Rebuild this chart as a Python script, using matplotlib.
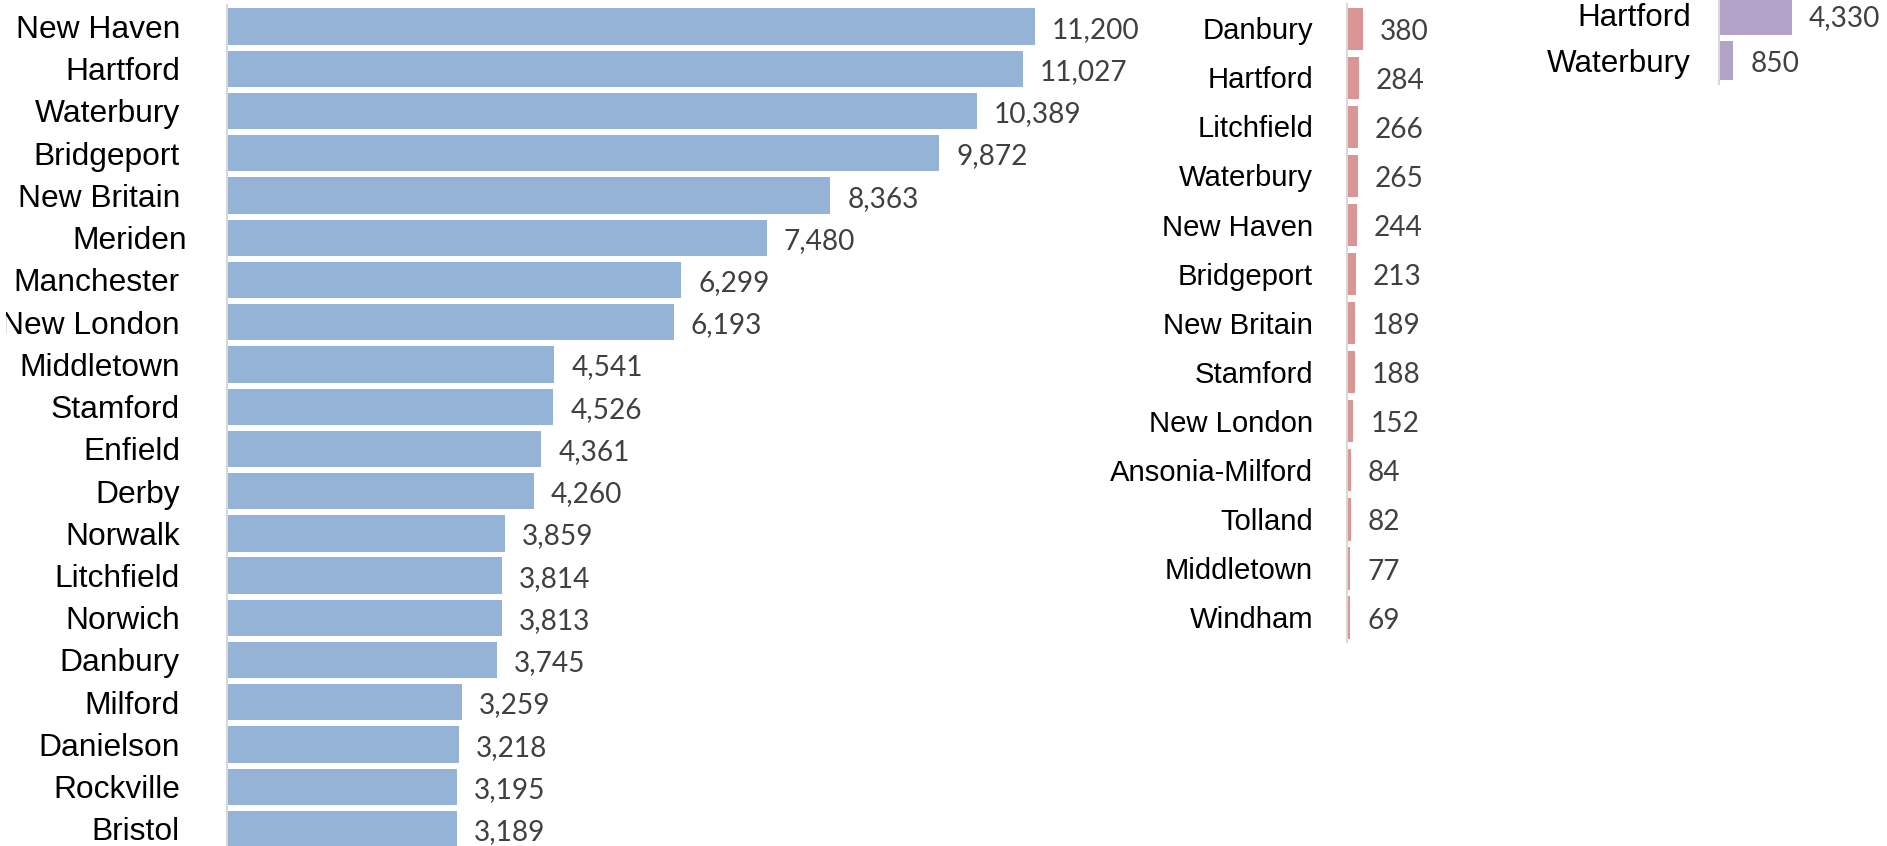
import matplotlib
matplotlib.use("Agg")
import matplotlib.pyplot as plt
from matplotlib.transforms import offset_copy, blended_transform_factory, Bbox, TransformedBbox

# ---------------- data ----------------
cities_all = ["New Haven", "Hartford", "Waterbury", "Bridgeport", "New Britain",
              "Meriden", "Manchester", "New London", "Middletown", "Stamford",
              "Enfield", "Derby", "Norwalk", "Litchfield", "Norwich", "Danbury",
              "Milford", "Danielson", "Rockville", "Bristol"]
values_all = [11200, 11027, 10389, 9872, 8363, 7480, 6299, 6193, 4541, 4526,
              4361, 4260, 3859, 3814, 3813, 3745, 3259, 3218, 3195, 3189]

cities_mid = ["Danbury", "Hartford", "Litchfield", "Waterbury", "New Haven",
              "Bridgeport", "New Britain", "Stamford", "New London",
              "Ansonia-Milford", "Tolland", "Middletown", "Windham"]
values_mid = [380, 284, 266, 265, 244, 213, 189, 188, 152, 84, 82, 77, 69]

cities_right = ["Hartford", "Waterbury"]
values_right = [4330, 850]

# ---------------- layout ----------------
W, H, DPI = 1887, 846, 100
fig = plt.figure(figsize=(W / DPI, H / DPI), dpi=DPI)
fig.patch.set_facecolor("white")

LABEL_FONT = "Liberation Sans"
VALUE_FONT = "Lato"
VALUE_PT = 20.2
VALUE_COLOR = "#404040"
AXIS_COLOR = "#D9D9D9"

# labels of the first panel are cut a few pixels inside the left edge
label_clip = TransformedBbox(Bbox([[6 / W, 0], [1, 1]]), fig.transFigure)


def px_axes(left, top, width, height):
    return fig.add_axes([left / W, 1 - (top + height) / H, width / W, height / H])


def panel(names, values, color, axis_x, top, pitch, scale, label_pt, label_gap,
          bar_frac=0.86, ax_width=400, nudges=None, clip=None):
    nudges = nudges or {}
    n = len(names)
    ax = px_axes(axis_x, top, ax_width, pitch * n)
    ax.set_facecolor("none")
    pos = list(range(n))
    ax.barh(pos, values, height=bar_frac, color=color, zorder=1)
    ax.set_xlim(0, ax_width / scale)
    ax.set_ylim(n - 0.5, -0.5)
    ax.set_xticks([])
    ax.set_yticks([])
    for s in ("top", "right", "bottom"):
        ax.spines[s].set_visible(False)
    ax.spines["left"].set_color(AXIS_COLOR)
    ax.spines["left"].set_linewidth(1.5)
    ax.spines["left"].set_zorder(3)

    em_label = label_pt * DPI / 72
    cap = 0.716 * em_label
    bt = blended_transform_factory(ax.transAxes, ax.transData)
    for i, name in enumerate(names):
        tr = offset_copy(bt, fig=fig, x=-label_gap + nudges.get(name, 0),
                         y=-cap / 2, units="dots")
        t = ax.text(0, i, name, transform=tr, ha="right", va="baseline",
                    fontsize=label_pt, family=LABEL_FONT, color="black",
                    clip_on=clip is not None)
        if clip is not None:
            t.set_clip_box(clip)

    em_val = VALUE_PT * DPI / 72
    dig = 0.7165 * em_val
    for i, v in enumerate(values):
        tr = offset_copy(ax.transData, fig=fig, x=17, y=-(dig / 2 + 1), units="dots")
        ax.text(v, i, f"{v:,}", transform=tr, ha="left", va="baseline",
                fontsize=VALUE_PT, family=VALUE_FONT, color=VALUE_COLOR,
                clip_on=False)
    return ax


panel(cities_all, values_all, "#95B3D7", axis_x=226.5, top=5.5, pitch=42.23,
      scale=0.0722, label_pt=22.9, label_gap=46.5, ax_width=900,
      nudges={"Meriden": 7}, clip=label_clip)
panel(cities_mid, values_mid, "#D99694", axis_x=1347.3, top=4.2, pitch=49.07,
      scale=0.0400, label_pt=21.1, label_gap=34.3, ax_width=200)
panel(cities_right, values_right, "#B3A2C7", axis_x=1719, top=-7.6, pitch=45.6,
      scale=0.0168, label_pt=22.6, label_gap=28.3, ax_width=160)

fig.savefig("out.png", dpi=DPI, facecolor="white")
